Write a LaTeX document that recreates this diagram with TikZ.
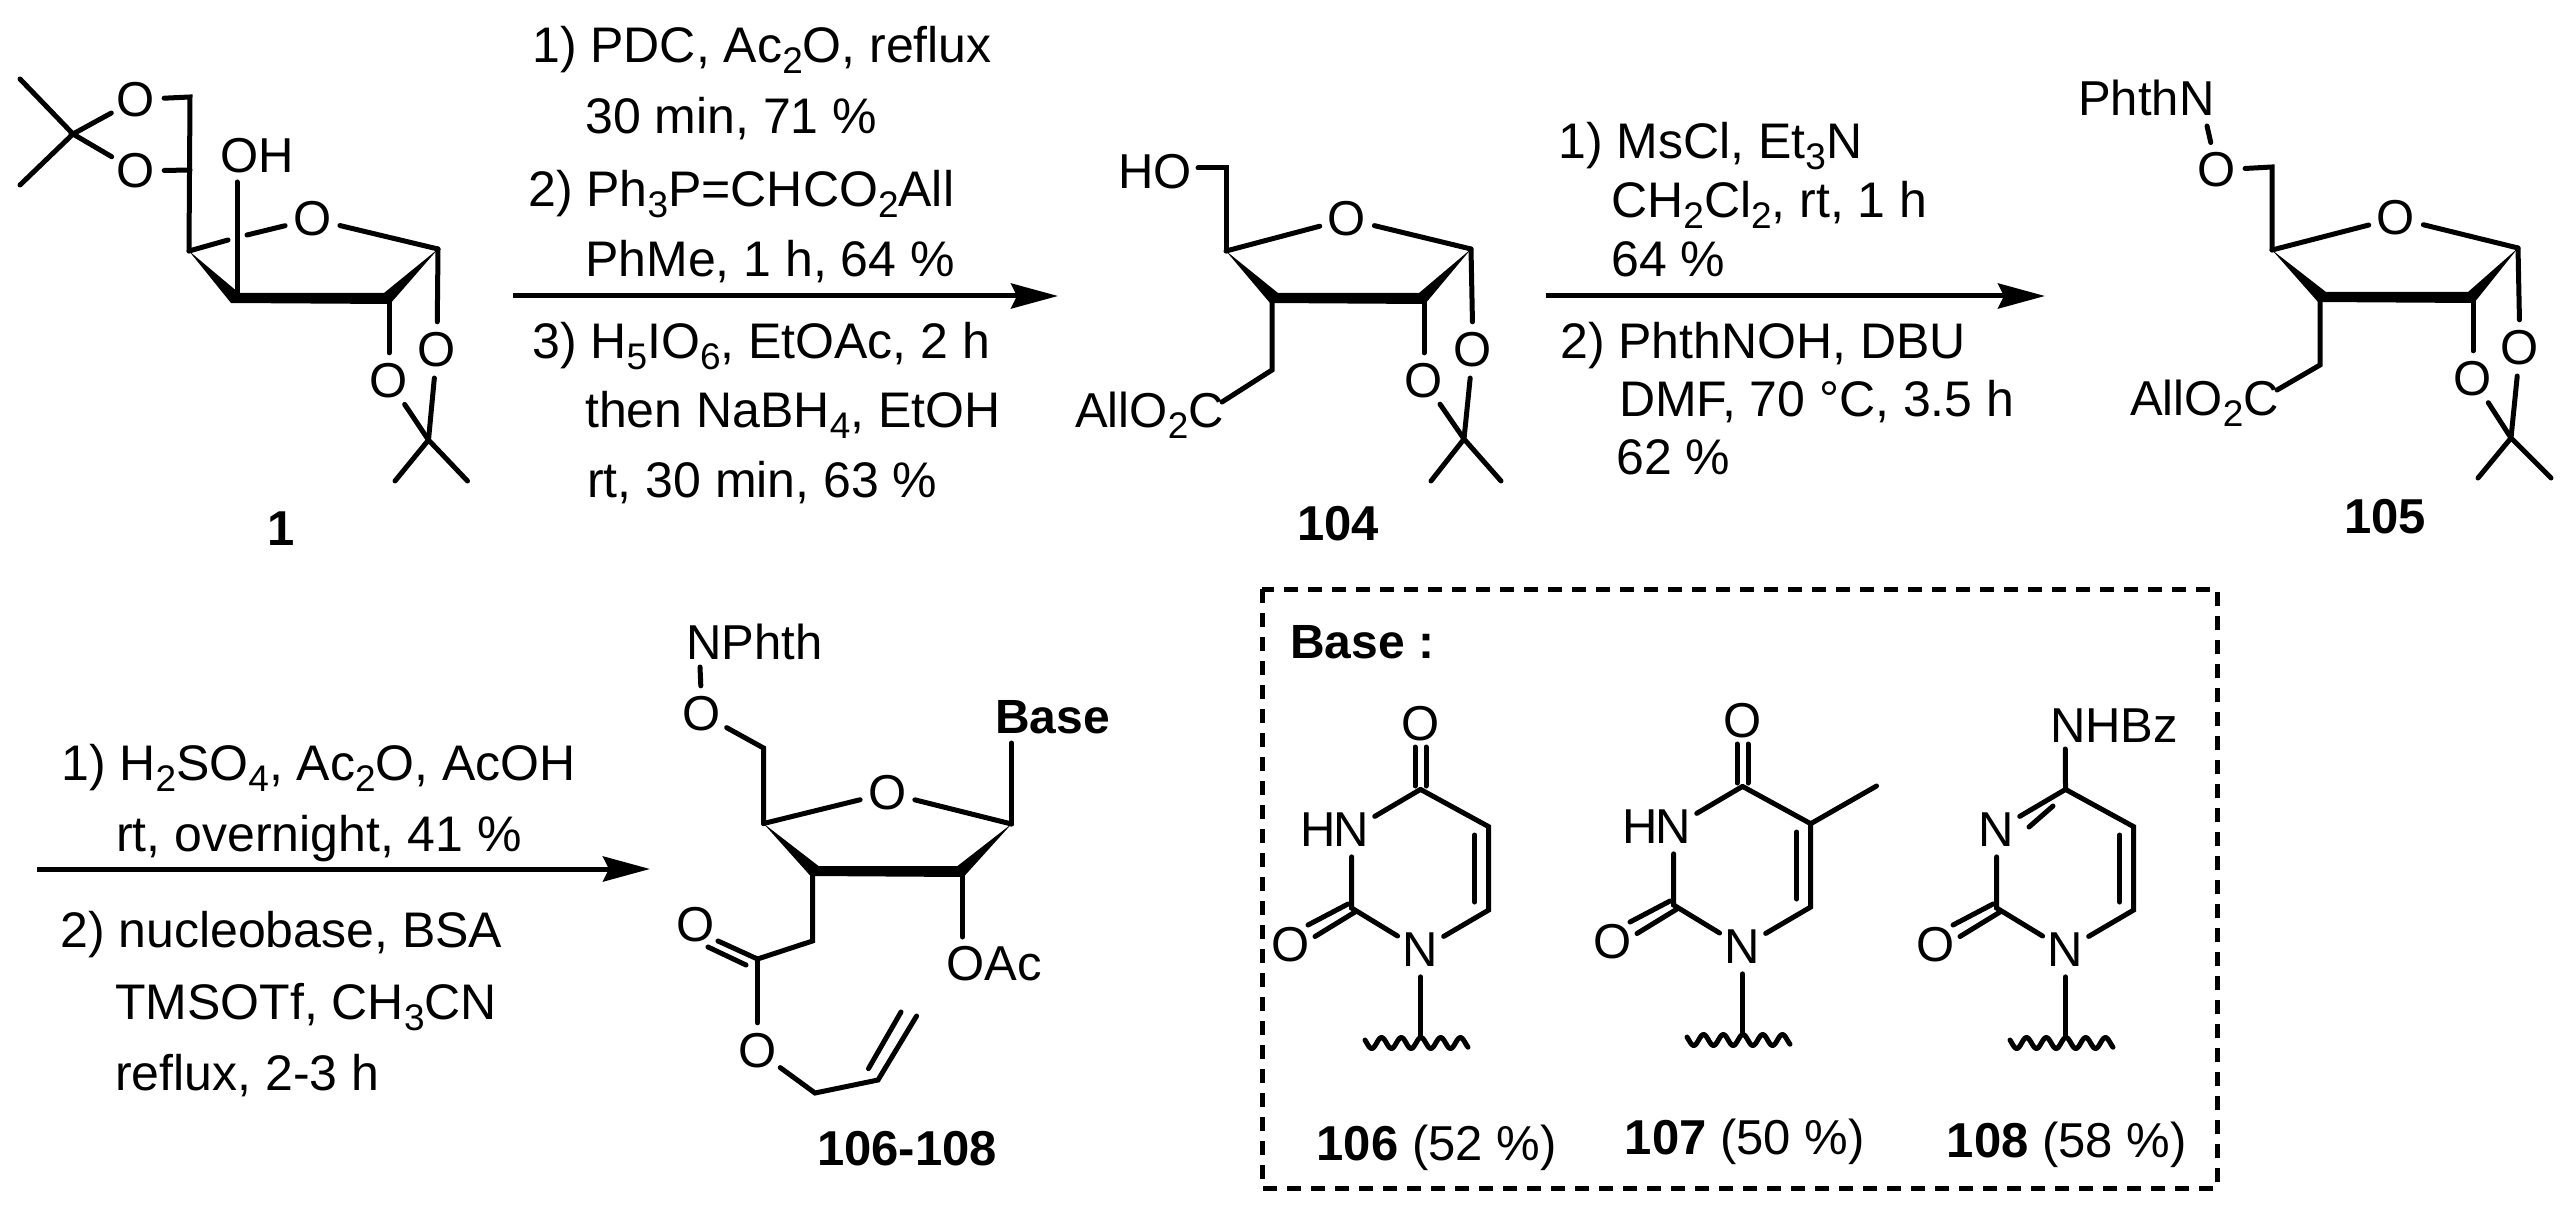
\documentclass[tikz,border=0pt]{standalone}
\usepackage{fontspec}
\setmainfont{Liberation Sans}
\usetikzlibrary{arrows.meta,calc}
\newcommand{\subs}[1]{\raisebox{-11pt}{\fontsize{37}{37}\selectfont #1}}
\tikzset{
  every node/.style={font=\fontsize{49}{49}\selectfont},
  bond/.style={line width=5pt,line cap=round,line join=miter},
  atom/.style={circle,inner sep=0pt,outer sep=2.5pt},
  txt/.style={anchor=base west,inner sep=0pt},
  rgt/.style={txt,font=\fontsize{50}{50}\selectfont},
  cid/.style={anchor=base,inner sep=0pt,font=\fontsize{49}{49}\selectfont\bfseries},
  rxn/.style={line width=5pt,-{Stealth[length=47pt,width=25pt,inset=6pt]}},
  wavy/.style={line width=5pt,line cap=round,line join=round},
  dbox/.style={line width=5pt,dash pattern=on 14pt off 10pt}
}
% front edge of a furanose ring: tip, wide, wide, tip
\newcommand{\ringfront}[4]{\fill (#1) -- ([shift={(6,-5)}]#2) -- ([shift={(-5,-5)}]#3) -- (#4) -- ([shift={(1,6)}]#3) -- ([shift={(-2,5)}]#2) -- cycle;}
% parts common to the three nucleobases
\newcommand{\basecommon}{
  \coordinate (c4) at (1420.5,789.4);
  \coordinate (c5) at (1488.7,826.7);
  \coordinate (c6) at (1488.7,910);
  \coordinate (c2) at (1351.6,908);
  \coordinate (w) at (1420.5,1036);
  \coordinate (i5) at (1474.7,835);
  \coordinate (i6) at (1474.7,902);
  \coordinate (d1a) at (1348,904);
  \coordinate (d1b) at (1308,925);
  \coordinate (d2a) at (1355,912);
  \coordinate (d2b) at (1315,936.5);
  \node[atom] (n1) at (1420.5,950) {N};
  \node[atom] (o2) at (1291,945) {O};
  \draw[bond] (n3) -- (c2) -- (n1);
  \draw[bond] (n1) -- (c6) -- (c5) -- (c4);
  \draw[bond] (c4) -- (n3);
  \draw[bond] (i5) -- (i6);
  \draw[bond] (d1a) -- (d1b);
  \draw[bond] (d2a) -- (d2b);
  \draw[bond] (n1) -- (w);
  \draw[wavy] plot[domain=-6.7:96.3,samples=90,smooth] ({1371.7+\x},{1043+5.5*cos(18.27*\x)});
}
\newcommand{\oxoup}{
  \coordinate (o4a) at (1415,747);
  \coordinate (o4b) at (1415,786);
  \coordinate (o4c) at (1426,747);
  \coordinate (o4d) at (1426,786);
  \node[atom] (o4) at (1420.5,723.5) {O};
  \draw[bond] (o4a) -- (o4b);
  \draw[bond] (o4c) -- (o4d);
  \node[atom] (n3) at (1351.6,830) {N};
  \node[anchor=east,inner sep=0pt] (h3) at ([xshift=-16pt]n3.center) {H};
}
\begin{document}
\begin{tikzpicture}[x=1pt,y=-1pt]
\useasboundingbox (0,0) rectangle (2571,1214);

% ---------- compound 1
\coordinate (a4) at (189,251);
\coordinate (a3) at (233,298);
\coordinate (a2) at (389,298);
\coordinate (a1) at (438,249);
\coordinate (a5) at (190,170);
\coordinate (a6) at (190,97);
\coordinate (ak) at (73,134);
\coordinate (am1) at (20,79);
\coordinate (am2) at (20,185);
\coordinate (ag1) at (228,240);
\coordinate (ag2) at (247,235);
\coordinate (aq) at (428.5,440);
\coordinate (aq1) at (395,481);
\coordinate (aq2) at (467.5,481);
\coordinate (aohb) at (237,182);
\coordinate (aohc) at (237,295);
\node[atom] (ao6) at (136,99.5) {O};
\node[atom] (ao5) at (136,171) {O};
\node[atom] (ao) at (312.5,219) {O};
\node[atom] (ao2) at (389,381) {O};
\node[atom] (ao1) at (437,350) {O};
\node[txt] (aoh) at (220,173) {OH};
\ringfront{a4}{a3}{a2}{a1}
\draw[bond] (am1) -- (ak) -- (am2);
\draw[bond] (ao6) -- (ak) -- (ao5);
\draw[bond] (ao6) -- (a6) -- (a4);
\draw[bond] (ao5) -- (a5);
\draw[bond] (a4) -- (ag1);
\draw[bond] (ag2) -- (ao);
\draw[bond] (ao) -- (a1);
\draw[bond] (aohb) -- (aohc);
\draw[bond] (a2) -- (ao2);
\draw[bond] (a1) -- (ao1);
\draw[bond] (ao1) -- (aq);
\draw[bond] (ao2) -- (aq);
\draw[bond] (aq1) -- (aq) -- (aq2);
\node[cid] (alab) at (281,545) {1};

% ---------- arrow 1 and reagents
\coordinate (r1s) at (513,296);
\coordinate (r1e) at (1058,296);
\draw[rxn] (r1s) -- (r1e);
\node[rgt] (r1a) at (532,63) {1) PDC, Ac\subs{2}O, reflux};
\node[rgt] (r1b) at (585,134) {30 min, 71 \%};
\node[rgt] (r1c) at (528,207) {2) Ph\subs{3}P=CHCO\subs{2}All};
\node[rgt] (r1d) at (585,277) {PhMe, 1 h, 64 \%};
\node[rgt] (r1f) at (532,358) {3) H\subs{5}IO\subs{6}, EtOAc, 2 h};
\node[rgt] (r1g) at (585,427) {then NaBH\subs{4}, EtOH};
\node[rgt] (r1h) at (587,497) {rt, 30 min, 63 \%};

% ---------- compound 104
\coordinate (b4) at (1226,251);
\coordinate (b3) at (1272,298);
\coordinate (b2) at (1424,298);
\coordinate (b1) at (1471,249);
\coordinate (b6) at (1226,168);
\coordinate (bhob) at (1198,168);
\coordinate (bch) at (1272,370);
\coordinate (bce) at (1222,402);
\coordinate (bq) at (1464,439);
\coordinate (bq1) at (1431,481);
\coordinate (bq2) at (1501,481);
\node[atom] (bo) at (1347,219) {O};
\node[atom] (bo2) at (1424,381) {O};
\node[atom] (bo1) at (1473,350) {O};
\node[txt] (bho) at (1118,189) {HO};
\node[txt] (ball) at (1075,427) {AllO\subs{2}C};
\ringfront{b4}{b3}{b2}{b1}
\draw[bond] (bhob) -- (b6) -- (b4);
\draw[bond] (b4) -- (bo);
\draw[bond] (bo) -- (b1);
\draw[bond] (b3) -- (bch) -- (bce);
\draw[bond] (b2) -- (bo2);
\draw[bond] (b1) -- (bo1);
\draw[bond] (bo1) -- (bq);
\draw[bond] (bo2) -- (bq);
\draw[bond] (bq1) -- (bq) -- (bq2);
\node[cid] (blab) at (1338,540) {104};

% ---------- arrow 2 and reagents
\coordinate (r2s) at (1546,296);
\coordinate (r2e) at (2045,296);
\draw[rxn] (r2s) -- (r2e);
\node[rgt] (r2a) at (1558,159) {1) MsCl, Et\subs{3}N};
\node[rgt] (r2b) at (1611,218) {CH\subs{2}Cl\subs{2}, rt, 1 h};
\node[rgt] (r2c) at (1611,277) {64 \%};
\node[rgt] (r2d) at (1560,358) {2) PhthNOH, DBU};
\node[rgt] (r2f) at (1619,416) {DMF, 70 °C, 3.5 h};
\node[rgt] (r2g) at (1616,474.5) {62 \%};

% ---------- compound 105
\coordinate (c14) at (2272,250);
\coordinate (c13) at (2320,297);
\coordinate (c12) at (2473,297);
\coordinate (c11) at (2518,248);
\coordinate (c16) at (2272,167);
\coordinate (cnb) at (2207,126);
\coordinate (ccm) at (2320,365);
\coordinate (cce) at (2277,390);
\coordinate (cq) at (2511,438);
\coordinate (cq1) at (2478,478);
\coordinate (cq2) at (2551,478);
\node[atom] (co6) at (2217,170) {O};
\node[atom] (co) at (2396,218) {O};
\node[atom] (co2) at (2473,379) {O};
\node[atom] (co1) at (2520,348) {O};
\node[txt] (cph) at (2078,116) {PhthN};
\node[txt] (call) at (2130,415) {AllO\subs{2}C};
\ringfront{c14}{c13}{c12}{c11}
\draw[bond] (cnb) -- (co6);
\draw[bond] (co6) -- (c16) -- (c14);
\draw[bond] (c14) -- (co);
\draw[bond] (co) -- (c11);
\draw[bond] (c13) -- (ccm) -- (cce);
\draw[bond] (c12) -- (co2);
\draw[bond] (c11) -- (co1);
\draw[bond] (co1) -- (cq);
\draw[bond] (co2) -- (cq);
\draw[bond] (cq1) -- (cq) -- (cq2);
\node[cid] (clab) at (2385,533) {105};

% ---------- arrow 3 and reagents
\coordinate (r3s) at (37,869);
\coordinate (r3e) at (650,869);
\draw[rxn] (r3s) -- (r3e);
\node[rgt] (r3a) at (61,780) {1) H\subs{2}SO\subs{4}, Ac\subs{2}O, AcOH};
\node[rgt] (r3b) at (116,851) {rt, overnight, 41 \%};
\node[rgt] (r3c) at (60,947) {2) nucleobase, BSA};
\node[rgt] (r3d) at (115,1019) {TMSOTf, CH\subs{3}CN};
\node[rgt] (r3f) at (115,1090) {reflux, 2-3 h};

% ---------- compound 106-108
\coordinate (d4) at (763.5,823.5);
\coordinate (d3) at (812.5,871);
\coordinate (d2) at (962.5,871);
\coordinate (d1) at (1011.5,824);
\coordinate (d5) at (763.5,748);
\coordinate (dnb) at (700,667);
\coordinate (dbb) at (1011.5,743);
\coordinate (dch) at (812.5,941);
\coordinate (dco) at (757.5,959);
\coordinate (dca) at (718,941);
\coordinate (dcb) at (746,965);
\coordinate (dcc) at (708,947);
\coordinate (dac) at (962.5,937);
\coordinate (dal1) at (815,1093);
\coordinate (dal2) at (878,1080);
\coordinate (dal3) at (916.6,1016);
\coordinate (dal4) at (868.5,1068.6);
\coordinate (dal5) at (901,1012);
\node[atom] (do6) at (702,714) {O};
\node[atom] (do) at (887.5,793) {O};
\node[atom] (dox) at (696,925) {O};
\node[atom] (doe) at (757.5,1051) {O};
\node[txt] (dph) at (686,659) {NPhth};
\node[txt,font=\fontsize{48}{48}\selectfont\bfseries] (dbase) at (995,733) {Base};
\node[txt] (dacl) at (946,980) {OAc};
\ringfront{d4}{d3}{d2}{d1}
\draw[bond] (dnb) -- (do6);
\draw[bond] (do6) -- (d5) -- (d4);
\draw[bond] (d4) -- (do);
\draw[bond] (do) -- (d1);
\draw[bond] (d1) -- (dbb);
\draw[bond] (d3) -- (dch) -- (dco);
\draw[bond] (dco) -- (dca);
\draw[bond] (dcb) -- (dcc);
\draw[bond] (dco) -- (doe);
\draw[bond] (doe) -- (dal1) -- (dal2) -- (dal3);
\draw[bond] (dal4) -- (dal5);
\draw[bond] (d2) -- (dac);
\node[cid] (dlab) at (907,1165) {106-108};

% ---------- Base box
\coordinate (boxa) at (1262,589);
\coordinate (boxb) at (2217,1188);
\draw[dbox] (boxa) rectangle (boxb);
\node[txt,font=\fontsize{48}{48}\selectfont\bfseries] (baselab) at (1290,658) {Base :};

% 106
\begin{scope}[name prefix=u-]
  \oxoup
  \basecommon
\end{scope}
\node[txt] (ulab) at (1316.5,1160) {\textbf{106} (52 \%)};

% 107
\begin{scope}[shift={(322,-3)},name prefix=t-]
  \oxoup
  \basecommon
  \coordinate (me) at (1554.5,789);
  \draw[bond] (c5) -- (me);
\end{scope}
\node[txt] (tlab) at (1624.6,1154) {\textbf{107} (50 \%)};

% 108
\begin{scope}[shift={(645,0)},name prefix=z-]
  \node[atom] (n3) at (1351.6,830) {N};
  \basecommon
  \coordinate (nb) at (1420.3,749);
  \coordinate (ia) at (1408,806);
  \coordinate (ib) at (1384,827);
  \draw[bond] (nb) -- (c4);
  \draw[bond] (ia) -- (ib);
\end{scope}
\node[txt] (zn) at (2050,742) {NHBz};
\node[txt] (zlab) at (1946.6,1157.6) {\textbf{108} (58 \%)};
\end{tikzpicture}
\end{document}
